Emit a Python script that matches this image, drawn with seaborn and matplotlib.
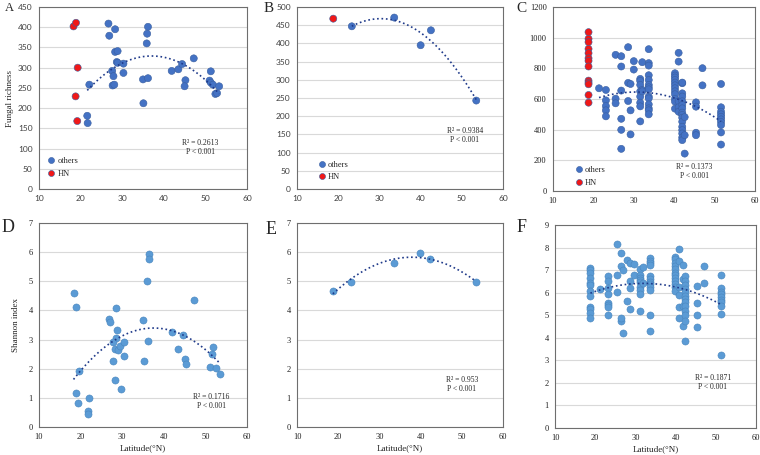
import numpy as np
import pandas as pd
import matplotlib.pyplot as plt
import seaborn as sns

# ---data---
# A - fungal richness, site level
a_lat_others = [26.7, 26.9, 28.3, 36.2, 36.0, 35.9, 28.3, 28.9, 28.7, 28.9, 30.3, 27.6, 27.9, 27.7, 28.1,
                30.3, 22.1, 21.6, 21.7, 35.0, 36.2, 35.1, 41.9, 43.5, 44.4, 47.2, 45.2, 45.0, 51.3, 51.0,
                51.3, 51.8, 52.4, 52.8, 53.3]
a_val_others = [409, 379, 395, 401, 384, 360, 339, 341, 314, 312, 310, 292, 279, 256, 258,
                287, 258, 181, 163, 271, 274, 212, 292, 296, 309, 323, 269, 254, 291, 268,
                263, 258, 235, 237, 254]
a_lat_hn = [18.3, 18.9, 19.3, 18.8, 19.2]
a_val_hn = [402, 411, 300, 229, 168]

# B - fungal richness, region level
b_lat_others = [23.3, 33.6, 40.0, 42.5, 53.5]
b_val_others = [447, 471, 395, 436, 243]
b_lat_hn = [18.8]
b_val_hn = [468]

# C - fungal richness, sample level (latitude columns)
c_cols = [21.4, 23.1, 25.5, 26.9, 28.6, 29.2, 30.0, 31.6, 32.1, 33.7, 40.2, 41.1, 42.0, 42.6, 45.4, 47.0, 51.6]
c_vals = [[670],
          [659, 591, 554, 526, 487],
          [888, 602, 572],
          [879, 812, 655, 471, 399, 275],
          [938, 705, 587],
          [698, 526, 369],
          [847, 792],
          [731, 718, 692, 650, 616, 576, 552, 454],
          [840, 659, 650],
          [925, 834, 818, 755, 724, 692, 676, 663, 616, 604, 565, 539, 526, 500],
          [768, 753, 740, 724, 707, 689, 670, 650, 631, 600, 583, 537],
          [901, 844, 585, 546, 517],
          [703, 707, 637, 616, 585, 561, 539, 511, 496, 478, 452, 419, 397, 375, 349, 332],
          [244, 364, 482],
          [578, 550, 380, 364],
          [801, 689],
          [698, 546, 517, 500, 484, 467, 450, 430, 382, 303]]
c_lat_hn = 18.8
c_val_hn = [1036, 993, 971, 927, 899, 866, 849, 812, 720, 707, 696, 626, 576]

# D - shannon index, site level
d_lat = [18.3, 18.9, 19.5, 18.9, 19.3, 22.1, 21.7, 21.9, 26.8, 27.0, 28.4, 28.8, 28.4, 27.9, 28.3,
         29.0, 29.5, 30.5, 27.9, 30.5, 28.3, 29.6, 35.1, 35.2, 36.2, 36.0, 36.4, 36.4, 42.0, 43.3,
         44.5, 45.2, 45.4, 47.3, 51.1, 51.6, 51.8, 52.6, 53.5]
d_val = [4.60, 4.13, 1.92, 1.16, 0.82, 1.00, 0.56, 0.43, 3.70, 3.62, 4.08, 3.34, 3.06, 2.90, 2.67,
         2.64, 2.79, 2.91, 2.27, 2.42, 1.60, 1.29, 3.67, 2.27, 2.96, 5.02, 5.95, 5.76, 3.25, 2.69,
         3.16, 2.35, 2.15, 4.36, 2.06, 2.52, 2.75, 2.04, 1.81]

# E - shannon index, region level
e_lat = [18.7, 23.1, 33.5, 39.9, 42.3, 53.4]
e_val = [4.66, 4.98, 5.64, 5.98, 5.76, 4.96]

# F - shannon index, sample level (latitude columns)
f_cols = [18.8, 21.2, 23.2, 25.5, 26.5, 26.9, 28.0, 28.7, 29.7, 31.2, 31.8, 33.5, 39.8, 40.9, 41.8,
          42.3, 45.3, 47.1, 51.3]
f_vals = [[7.08, 7.00, 6.89, 6.67, 6.42, 6.36, 6.07, 5.86, 5.35, 5.26, 5.10, 4.87],
          [6.16],
          [6.75, 6.51, 6.20, 5.92, 5.54, 5.45, 5.38, 5.01],
          [8.14, 6.77, 6.01],
          [7.75, 7.19, 4.76, 4.86],
          [7.02, 4.21],
          [7.45, 5.63],
          [7.33, 6.51, 6.19, 5.27],
          [7.26, 6.77],
          [7.04, 6.77, 6.67, 6.57, 6.48, 6.26, 6.11, 5.93, 5.18],
          [7.13, 6.45],
          [7.55, 7.41, 7.30, 7.22, 6.72, 6.60, 6.49, 6.38, 6.23, 6.13, 5.01, 4.30],
          [7.60, 7.48, 7.33, 7.19, 7.04, 6.89, 6.77, 6.63, 6.51, 6.38, 6.26, 6.07],
          [7.95, 7.41, 6.24, 5.89, 5.35, 4.87],
          [7.22, 6.60, 5.42, 4.54],
          [6.72, 6.53, 6.33, 6.16, 6.01, 5.86, 5.71, 5.57, 5.39, 5.20, 5.01, 4.73, 3.87],
          [6.30, 5.52, 5.01, 4.49],
          [7.19, 6.45],
          [6.77, 6.19, 6.04, 5.92, 5.79, 5.68, 5.57, 5.39, 5.04, 3.25]]

stats_text = {'A': 'R² = 0.2613\nP < 0.001', 'B': 'R² = 0.9384\nP < 0.001', 'C': 'R² = 0.1373\nP < 0.001',
              'D': 'R² = 0.1716\nP < 0.001', 'E': 'R² = 0.953\nP < 0.001', 'F': 'R² = 0.1871\nP < 0.001'}

# ---styling---
sns.set_theme(style='white')
SERIF = ['Liberation Serif', 'DejaVu Serif']
SANS = ['Lato', 'DejaVu Sans']
plt.rcParams['font.family'] = SERIF

DARK_BLUE = '#4472C4'
LIGHT_BLUE = '#5B9BD5'
RED = '#F01818'
LINE = '#1F3A8A'


def expand(cols, vals):
    return np.repeat(cols, [len(v) for v in vals]), np.concatenate(vals)


def make_df(lat_o, val_o, lat_h=None, val_h=None):
    df = pd.DataFrame({'lat': lat_o, 'val': val_o, 'group': 'others'})
    if lat_h is not None:
        df = pd.concat([df, pd.DataFrame({'lat': lat_h, 'val': val_h, 'group': 'HN'})], ignore_index=True)
    return df


def panel(ax, df, color, ymax, ystep, letter, txt_pos, tick_font, legend_pos=None):
    if legend_pos is not None:
        sns.scatterplot(data=df, x='lat', y='val', hue='group', hue_order=['others', 'HN'],
                        palette={'others': color, 'HN': RED}, s=26, edgecolor='#3a5f9f',
                        linewidth=0.4, ax=ax, zorder=3)
    else:
        sns.scatterplot(data=df, x='lat', y='val', color=color, s=26, edgecolor='#4a86bd',
                        linewidth=0.4, ax=ax, zorder=3)
    # quadratic trend through the "others" group only
    sub = df[df['group'] == 'others']
    sns.regplot(data=sub, x='lat', y='val', order=2, ci=None, scatter=False, ax=ax,
                line_kws=dict(color=LINE, ls=':', lw=1.2, zorder=4))
    ax.set_xlim(10, 60)
    ax.set_ylim(0, ymax)
    ax.set_xticks(np.arange(10, 61, 10))
    ax.set_yticks(np.arange(0, ymax + ystep / 2, ystep))
    ax.yaxis.grid(True, color='#D9D9D9', lw=0.8)
    ax.set_axisbelow(True)
    for sp in ax.spines.values():
        sp.set_color('#6e6e6e')
        sp.set_linewidth(0.8)
    ax.tick_params(axis='both', direction='out', length=2.5, width=0.6, color='#6e6e6e',
                   labelsize=6, pad=2)
    for lab in ax.get_xticklabels() + ax.get_yticklabels():
        lab.set_family(tick_font)
        lab.set_color('#404040' if tick_font == SANS else '#202020')
    ax.set_xlabel('')
    ax.set_ylabel('')
    ax.text(txt_pos[0], txt_pos[1], stats_text[letter], transform=ax.transAxes, ha='center',
            va='center', fontsize=5.5, linespacing=1.15)
    if legend_pos is not None:
        h, l = ax.get_legend_handles_labels()
        ax.legend(h, l, loc='lower left', bbox_to_anchor=legend_pos, frameon=False, fontsize=6,
                  handletextpad=-0.3, labelspacing=0.55, borderpad=0, markerscale=0.85)
    elif ax.get_legend() is not None:
        ax.get_legend().remove()


fig = plt.figure(figsize=(7.6, 4.55), dpi=100)
ax_a = fig.add_axes([0.0513, 0.5846, 0.2737, 0.4000])
ax_b = fig.add_axes([0.3908, 0.5846, 0.2711, 0.4000])
ax_c = fig.add_axes([0.7276, 0.5802, 0.2658, 0.4044])
ax_d = fig.add_axes([0.0513, 0.0615, 0.2737, 0.4484])
ax_e = fig.add_axes([0.3908, 0.0615, 0.2711, 0.4484])
ax_f = fig.add_axes([0.7303, 0.0593, 0.2645, 0.4462])

c_lat, c_val = expand(c_cols, c_vals)
f_lat, f_val = expand(f_cols, f_vals)

panel(ax_a, make_df(a_lat_others, a_val_others, a_lat_hn, a_val_hn), DARK_BLUE, 450, 50, 'A',
      (0.775, 0.23), SANS, legend_pos=(0.0, 0.04))
panel(ax_b, make_df(b_lat_others, b_val_others, b_lat_hn, b_val_hn), DARK_BLUE, 500, 50, 'B',
      (0.815, 0.295), SANS, legend_pos=(0.06, 0.02))
panel(ax_c, make_df(c_lat, c_val, [c_lat_hn] * len(c_val_hn), c_val_hn), DARK_BLUE, 1200, 200, 'C',
      (0.70, 0.105), SERIF, legend_pos=(0.065, 0.0))
panel(ax_d, make_df(d_lat, d_val), LIGHT_BLUE, 7, 1, 'D', (0.83, 0.125), SERIF)
panel(ax_e, make_df(e_lat, e_val), LIGHT_BLUE, 7, 1, 'E', (0.80, 0.21), SERIF)
panel(ax_f, make_df(f_lat, f_val), LIGHT_BLUE, 9, 1, 'F', (0.785, 0.222), SERIF)

# axis titles
ax_a.set_ylabel('Fungal richness', fontsize=6.5, labelpad=3)
ax_d.set_ylabel('Shannon index', fontsize=6.5, labelpad=6)
for ax in (ax_d, ax_e, ax_f):
    ax.set_xlabel('Latitude(°N)', fontsize=6.5, labelpad=2)

# panel letters
fig.text(5 / 760, 1 - 8 / 455, 'A', fontsize=9, va='center', ha='left')
fig.text(264 / 760, 1 - 8 / 455, 'B', fontsize=11, va='center', ha='left')
fig.text(516 / 760, 1 - 9 / 455, 'C', fontsize=11, va='center', ha='left')
fig.text(2 / 760, 1 - 228 / 455, 'D', fontsize=13, va='center', ha='left')
fig.text(266 / 760, 1 - 229 / 455, 'E', fontsize=13, va='center', ha='left')
fig.text(517 / 760, 1 - 228 / 455, 'F', fontsize=13, va='center', ha='left')

plt.savefig('out.png', dpi=100)
